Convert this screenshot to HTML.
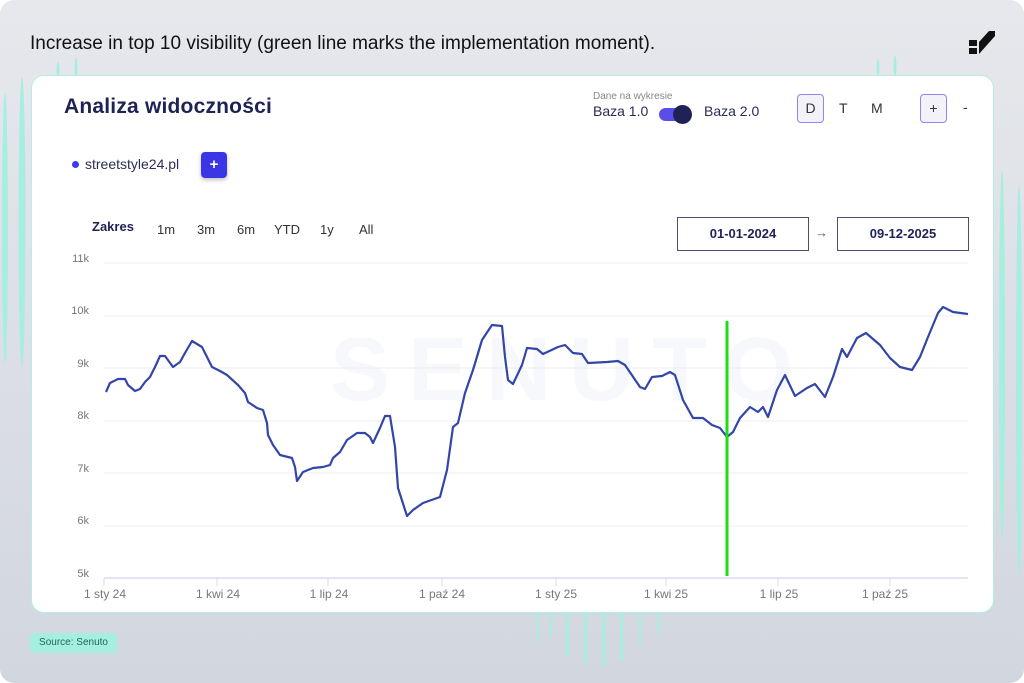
<!DOCTYPE html>
<html><head><meta charset="utf-8"><style>
*{margin:0;padding:0;box-sizing:border-box}
body{width:1024px;height:683px;overflow:hidden;font-family:"Liberation Sans",sans-serif;background:#fff}
.bg{position:absolute;left:0;top:0;width:1024px;height:683px;border-radius:14px;background:linear-gradient(180deg,#e6e8ec 0%,#d2d6df 100%);overflow:hidden}
.abs{position:absolute;white-space:nowrap}
.card{position:absolute;left:31px;top:75px;width:963px;height:538px;background:#fff;border-radius:13px;border:1px solid #b5efe3}
.t{color:#1f2255}
</style></head><body>
<div class="bg">
<svg class="abs" style="left:0;top:0" width="1024" height="683">
<g fill="#a5eee0">
<ellipse cx="5" cy="228" rx="3" ry="135"/>
<ellipse cx="22" cy="222" rx="3.5" ry="145"/>
<ellipse cx="58" cy="70" rx="1.5" ry="8"/>
<ellipse cx="76" cy="68" rx="1.5" ry="10"/>
<ellipse cx="1002" cy="355" rx="3" ry="185"/>
<ellipse cx="1019" cy="380" rx="3" ry="195"/>
<ellipse cx="878" cy="67" rx="1.5" ry="8"/>
<ellipse cx="895" cy="66" rx="1.5" ry="10"/>
<rect x="537" y="612" width="2" height="30"/>
<rect x="550" y="612" width="2" height="25"/>
<rect x="566" y="612" width="3" height="45"/>
<rect x="584" y="612" width="3" height="52"/>
<rect x="602" y="612" width="3" height="55"/>
<rect x="620" y="612" width="3" height="48"/>
<rect x="639" y="612" width="2" height="35"/>
<rect x="658" y="612" width="2" height="22"/>
</g></svg>
<div class="abs" style="left:30px;top:33px;font-size:19px;color:#111">Increase in top 10 visibility (green line marks the implementation moment).</div>
<svg class="abs" style="left:967px;top:30px" width="30" height="26"><path d="M2 10h8v6h-8zM2 18h8v6h-8zM12 24 L28 6 L28 1 L22 1 L12 12 Z" fill="#111"/></svg>
<div class="card"></div>
<div class="abs t" style="left:64px;top:95px;font-size:21px;font-weight:bold;letter-spacing:0.2px">Analiza widoczności</div>
<div class="abs" style="left:593px;top:91px;font-size:10px;color:#888">Dane na wykresie</div>
<div class="abs" style="left:593px;top:103px;font-size:14px;color:#2a2d55">Baza 1.0</div>
<div class="abs" style="left:659px;top:108px;width:30px;height:13px;border-radius:7px;background:#5b4ee8"></div>
<div class="abs" style="left:673px;top:105px;width:19px;height:19px;border-radius:50%;background:#1f2255"></div>
<div class="abs" style="left:704px;top:103px;font-size:14px;color:#2a2d55">Baza 2.0</div>
<div class="abs" style="left:797px;top:94px;width:27px;height:29px;border:1.5px solid #8f86f0;border-radius:4px;background:#f2f2f8;text-align:center;line-height:26px;font-size:14px;color:#333">D</div>
<div class="abs" style="left:839px;top:100px;font-size:14px;color:#333">T</div>
<div class="abs" style="left:871px;top:100px;font-size:14px;color:#333">M</div>
<div class="abs" style="left:920px;top:94px;width:27px;height:29px;border:1.5px solid #8f86f0;border-radius:4px;background:#f2f2f8;text-align:center;line-height:26px;font-size:14px;color:#333">+</div>
<div class="abs" style="left:963px;top:99px;font-size:14px;color:#333">-</div>
<div class="abs" style="left:72px;top:161px;width:7px;height:7px;border-radius:50%;background:#3b3cf0"></div>
<div class="abs" style="left:85px;top:156px;font-size:14px;color:#2a2d55">streetstyle24.pl</div>
<div class="abs" style="left:201px;top:152px;width:26px;height:26px;border-radius:4px;background:#3b35e6;color:#fff;text-align:center;line-height:25px;font-size:15px;font-weight:bold;box-shadow:0 2px 4px rgba(0,0,0,.25)">+</div>
<div class="abs t" style="left:92px;top:219px;font-size:13px;font-weight:bold">Zakres</div>
<div class="abs" style="left:157px;top:222px;font-size:13px;color:#333">1m</div>
<div class="abs" style="left:197px;top:222px;font-size:13px;color:#333">3m</div>
<div class="abs" style="left:237px;top:222px;font-size:13px;color:#333">6m</div>
<div class="abs" style="left:274px;top:222px;font-size:13px;color:#333">YTD</div>
<div class="abs" style="left:320px;top:222px;font-size:13px;color:#333">1y</div>
<div class="abs" style="left:359px;top:222px;font-size:13px;color:#333">All</div>
<div class="abs t" style="left:677px;top:217px;width:132px;height:34px;border:1.5px solid #4a4c7a;text-align:center;line-height:31px;font-size:13px;font-weight:bold">01-01-2024</div>
<div class="abs" style="left:815px;top:225px;font-size:13px;color:#555">→</div>
<div class="abs t" style="left:837px;top:217px;width:132px;height:34px;border:1.5px solid #4a4c7a;text-align:center;line-height:31px;font-size:13px;font-weight:bold">09-12-2025</div>
<svg class="abs" style="left:0;top:0" width="1024" height="683" font-family="Liberation Sans, sans-serif">
<text x="330" y="400" font-size="90" font-weight="bold" fill="#f6f8fc" letter-spacing="18">SENUTO</text>
<g stroke="#ececf2" stroke-width="1">
<line x1="104" y1="263" x2="968" y2="263"/><line x1="104" y1="316" x2="968" y2="316"/>
<line x1="104" y1="368" x2="968" y2="368"/><line x1="104" y1="421" x2="968" y2="421"/>
<line x1="104" y1="473" x2="968" y2="473"/><line x1="104" y1="526" x2="968" y2="526"/>
</g>
<line x1="104" y1="578" x2="968" y2="578" stroke="#d6dcf0" stroke-width="1.5"/>
<g stroke="#d6dcf0"><line x1="104" y1="578" x2="104" y2="586"/><line x1="217" y1="578" x2="217" y2="586"/><line x1="328" y1="578" x2="328" y2="586"/><line x1="442" y1="578" x2="442" y2="586"/><line x1="556" y1="578" x2="556" y2="586"/><line x1="666" y1="578" x2="666" y2="586"/><line x1="778" y1="578" x2="778" y2="586"/><line x1="890" y1="578" x2="890" y2="586"/></g>
<g font-size="11" fill="#777" text-anchor="end">
<text x="89" y="262">11k</text><text x="89" y="314">10k</text><text x="89" y="367">9k</text><text x="89" y="419">8k</text><text x="89" y="472">7k</text><text x="89" y="524">6k</text><text x="89" y="577">5k</text></g>
<g font-size="12" fill="#777" text-anchor="middle">
<text x="105" y="598">1 sty 24</text><text x="218" y="598">1 kwi 24</text><text x="329" y="598">1 lip 24</text><text x="442" y="598">1 paź 24</text><text x="556" y="598">1 sty 25</text><text x="666" y="598">1 kwi 25</text><text x="779" y="598">1 lip 25</text><text x="885" y="598">1 paź 25</text></g>
<polyline fill="none" stroke="#3346a8" stroke-width="2.2" stroke-linejoin="round" points="106,392 110,383 118,379 125,379 128,385 135,391 140,389 145,382 150,377 155,367 160,356 165,356 173,367 180,362 185,353 192,341 202,347 212,367 220,371 227,375 238,385 245,393 248,402 257,408 263,410 267,423 268,435 273,445 280,455 292,458 295,467 297,481 303,472 313,468 323,467 330,465 333,458 340,452 347,440 357,433 365,433 370,437 373,443 380,428 385,416 390,416 395,447 398,488 407,516 413,510 423,503 440,497 447,470 453,427 458,423 465,393 473,370 482,340 492,325 502,326 505,357 508,380 513,384 522,365 527,348 537,349 543,354 558,347 565,345 573,353 582,354 588,363 607,362 618,361 625,365 640,387 645,389 652,377 662,376 670,372 675,375 683,400 693,418 703,418 712,425 720,428 727,437 733,432 740,418 750,407 758,412 763,407 768,417 777,390 785,375 795,396 807,388 815,384 825,397 833,377 842,349 847,357 857,338 866,333 880,345 890,358 900,367 912,370 920,357 928,337 938,313 943,307 953,312 968,314"/>
<line x1="727" y1="321" x2="727" y2="576" stroke="#22dd11" stroke-width="3"/>
</svg>
<div class="abs" style="left:30px;top:633px;width:87px;height:20px;border-radius:4px;background:#a5eee0;color:#1a6a5a;font-size:10px;text-align:center;line-height:20px">Source: Senuto</div>
</div>
</body></html>
